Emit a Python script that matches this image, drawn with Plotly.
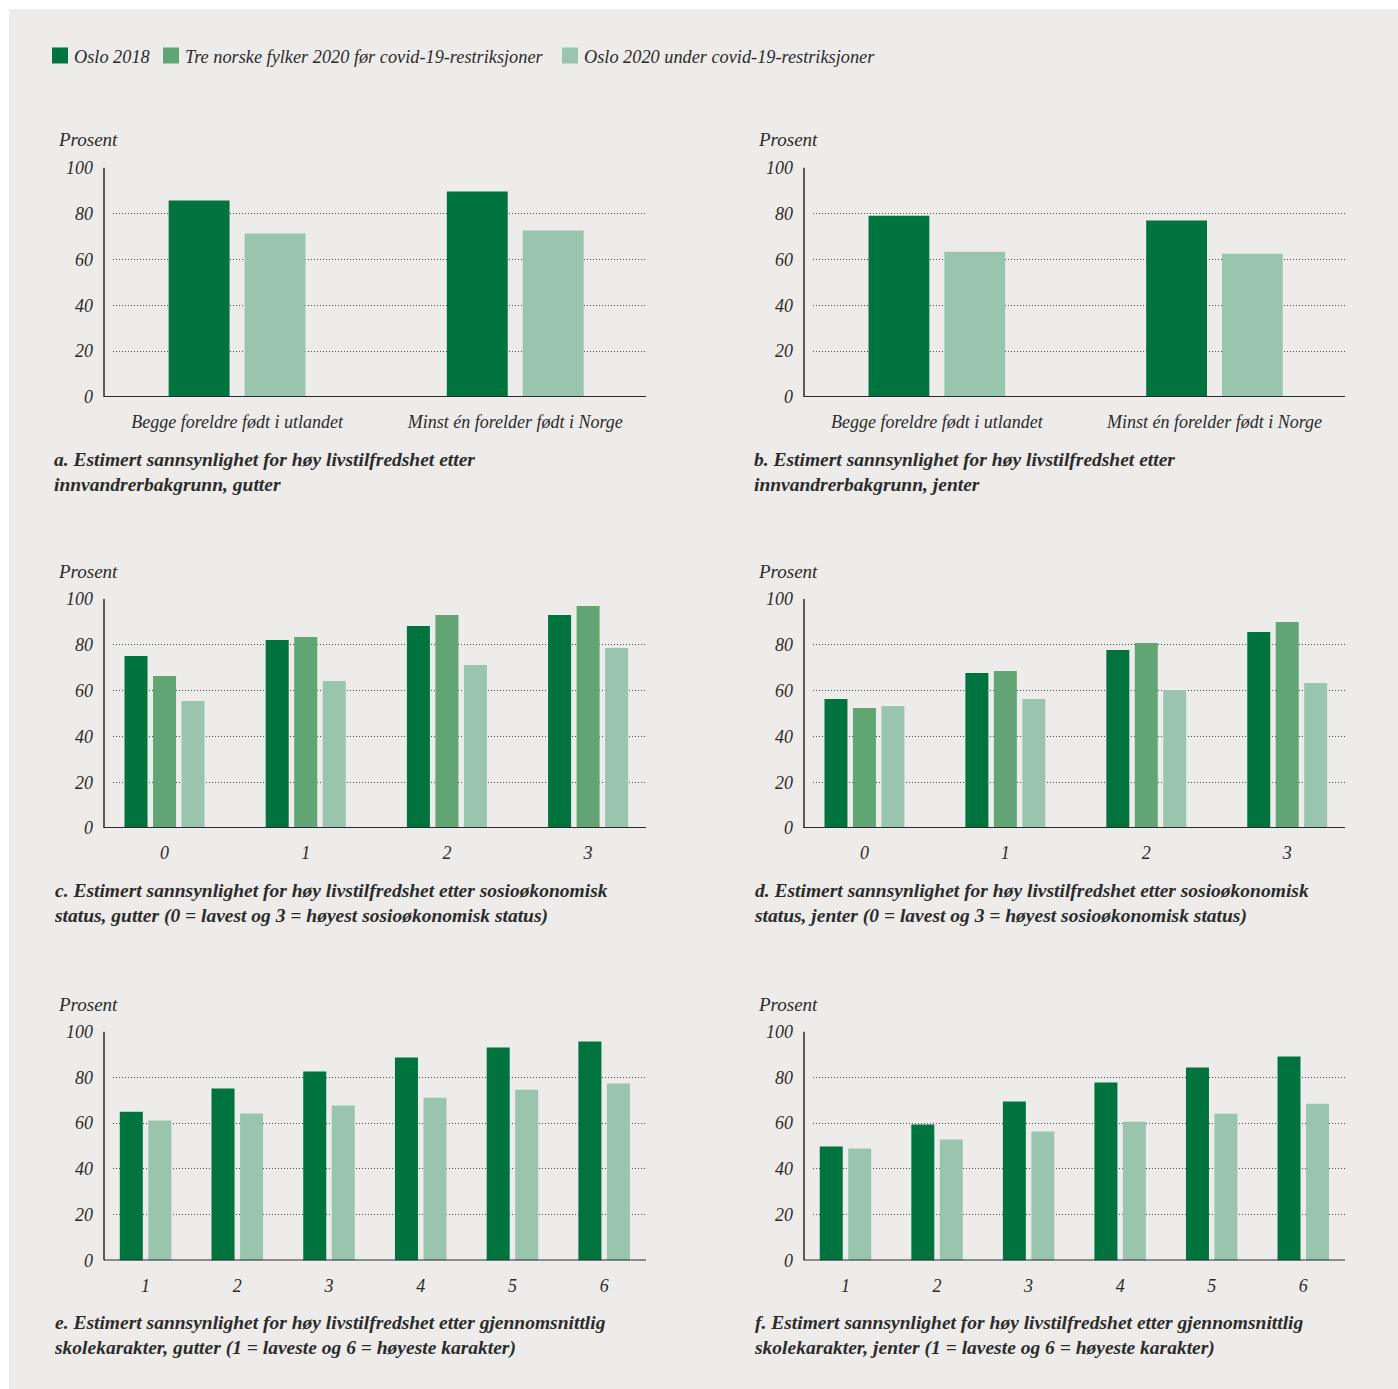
import plotly.graph_objects as go

W, H = 1398, 1389

# ---------------- data ----------------
series_names = [
    "Oslo 2018",
    "Tre norske fylker 2020 før covid-19-restriksjoner",
    "Oslo 2020 under covid-19-restriksjoner",
]
series_colors = ["#00733F", "#61A574", "#99C5AF"]

cats_ab = ["Begge foreldre født i utlandet", "Minst én forelder født i Norge"]
cats_cd = ["0", "1", "2", "3"]
cats_ef = ["1", "2", "3", "4", "5", "6"]

a_oslo2018 = [85.6, 89.5]
a_oslo2020 = [71.2, 72.5]

b_oslo2018 = [79.0, 76.9]
b_oslo2020 = [63.3, 62.4]

c_oslo2018 = [75.1, 82.1, 88.2, 93.0]
c_tre2020 = [66.4, 83.4, 93.0, 96.9]
c_oslo2020 = [55.5, 64.2, 71.2, 78.6]

d_oslo2018 = [56.3, 67.7, 77.7, 85.6]
d_tre2020 = [52.4, 68.6, 80.8, 90.0]
d_oslo2020 = [53.3, 56.3, 60.3, 63.3]

e_oslo2018 = [65.0, 75.1, 82.5, 88.6, 93.0, 95.6]
e_oslo2020 = [61.1, 64.2, 67.7, 71.1, 74.6, 77.3]

f_oslo2018 = [49.8, 59.4, 69.4, 77.7, 84.3, 89.1]
f_oslo2020 = [48.9, 52.8, 56.3, 60.6, 64.1, 68.5]

y_ticks = [0, 20, 40, 60, 80, 100]
y_title = "Prosent"

captions = [
    "a. Estimert sannsynlighet for høy livstilfredshet etter<br>innvandrerbakgrunn, gutter",
    "b. Estimert sannsynlighet for høy livstilfredshet etter<br>innvandrerbakgrunn, jenter",
    "c. Estimert sannsynlighet for høy livstilfredshet etter sosioøkonomisk<br>status, gutter (0 = lavest og 3 = høyest sosioøkonomisk status)",
    "d. Estimert sannsynlighet for høy livstilfredshet etter sosioøkonomisk<br>status, jenter (0 = lavest og 3 = høyest sosioøkonomisk status)",
    "e. Estimert sannsynlighet for høy livstilfredshet etter gjennomsnittlig<br>skolekarakter, gutter (1 = laveste og 6 = høyeste karakter)",
    "f. Estimert sannsynlighet for høy livstilfredshet etter gjennomsnittlig<br>skolekarakter, jenter (1 = laveste og 6 = høyeste karakter)",
]

panels = [
    dict(cats=cats_ab, series=[(0, a_oslo2018), (2, a_oslo2020)]),
    dict(cats=cats_ab, series=[(0, b_oslo2018), (2, b_oslo2020)]),
    dict(cats=cats_cd, series=[(0, c_oslo2018), (1, c_tre2020), (2, c_oslo2020)]),
    dict(cats=cats_cd, series=[(0, d_oslo2018), (1, d_tre2020), (2, d_oslo2020)]),
    dict(cats=cats_ef, series=[(0, e_oslo2018), (2, e_oslo2020)]),
    dict(cats=cats_ef, series=[(0, f_oslo2018), (2, f_oslo2020)]),
]

# ---------------- styling / geometry ----------------
FONT = "Liberation Serif"
TXT = "#2b2b2b"
BG = "#EDECEA"

axis_line_x = [104, 804]
dom_x = [(113, 646), (813, 1345)]
rows_y = [(167.5, 397), (599, 828), (1031.5, 1260.5)]
# x-range, bar width, bar gap (category units) per row
row_style = [
    dict(rng=[-0.446, 1.47], w=0.219, g=0.054),
    dict(rng=[-0.365, 3.41], w=0.163, g=0.039),
    dict(rng=[-0.355, 5.456], w=0.251, g=0.06),
]


def px(x):
    return x / W


def py(y):
    return 1 - y / H


fig = go.Figure()
shapes = [
    dict(type="rect", xref="paper", yref="paper", x0=px(9), x1=px(W), y0=py(H), y1=py(9),
         fillcolor=BG, line=dict(width=0), layer="below")
]
annotations = []
layout_axes = {}

tick_font = dict(family=FONT, size=18, color=TXT, style="italic")

for i, p in enumerate(panels):
    col = i % 2
    row = i // 2
    st = row_style[row]
    ax = "" if i == 0 else str(i + 1)
    xname, yname = "x" + ax, "y" + ax
    n = len(p["series"])
    total = n * st["w"] + (n - 1) * st["g"]
    for j, (si, vals) in enumerate(p["series"]):
        fig.add_trace(go.Bar(
            x=p["cats"], y=vals, xaxis=xname, yaxis=yname,
            name=series_names[si], marker=dict(color=series_colors[si], line=dict(width=0)),
            width=st["w"], offset=-total / 2 + j * (st["w"] + st["g"]),
            showlegend=False, hovertemplate="%{x}: %{y}<extra>" + series_names[si] + "</extra>",
        ))
    top, bot = rows_y[row]
    layout_axes["xaxis" + ax] = dict(
        domain=[px(dom_x[col][0]), px(dom_x[col][1])], anchor=yname,
        type="category", range=st["rng"], showgrid=False, zeroline=False, showline=False,
        ticks="", tickfont=tick_font, automargin=False,
        ticklabelstandoff=12, fixedrange=True,
    )
    layout_axes["yaxis" + ax] = dict(
        domain=[py(bot), py(top)], anchor=xname, range=[0, 100],
        tickvals=y_ticks, showgrid=True, gridcolor="#4a4a4a", griddash="1px,2px", gridwidth=1,
        zeroline=False, showline=False, ticks="", automargin=False,
        tickfont=tick_font,
        ticklabelstandoff=19, fixedrange=True,
    )
    # axis lines
    shapes.append(dict(type="line", xref="paper", yref=yname, x0=px(axis_line_x[col]),
                       x1=px(dom_x[col][1]), y0=0, y1=0, line=dict(color="#2a2a2a", width=2)))
    shapes.append(dict(type="line", xref="paper", yref=yname, x0=px(axis_line_x[col]),
                       x1=px(axis_line_x[col]), y0=0, y1=100, line=dict(color="#2a2a2a", width=1.5)))
    # "Prosent"
    annotations.append(dict(text=y_title, xref="paper", yref="paper", x=px(axis_line_x[col] - 48),
                            y=py(top - 27.5), xanchor="left", yanchor="middle", showarrow=False,
                            font=dict(family=FONT, size=19, color=TXT, style="italic")))
    # caption
    annotations.append(dict(text=captions[i], xref="paper", yref="paper", x=px(axis_line_x[col] - 52),
                            y=py(bot + 49.5), xanchor="left", yanchor="top", align="left", showarrow=False,
                            font=dict(family=FONT, size=19.5, color=TXT, style="italic", weight="bold")))

# manual legend
legend_pos = [(52, 72), (163, 183), (562, 582)]
for k, (sx, tx) in enumerate(legend_pos):
    shapes.append(dict(type="rect", xref="paper", yref="paper", x0=px(sx), x1=px(sx + 16),
                       y0=py(63.5), y1=py(47.5), fillcolor=series_colors[k], line=dict(width=0)))
    annotations.append(dict(text=series_names[k], xref="paper", yref="paper", x=px(tx), y=py(56.5),
                            xanchor="left", yanchor="middle", showarrow=False,
                            font=dict(family=FONT, size=18.3, color=TXT, style="italic")))

fig.update_layout(
    width=W, height=H, margin=dict(l=0, r=0, t=0, b=0, pad=0, autoexpand=False),
    paper_bgcolor="white", plot_bgcolor="rgba(0,0,0,0)",
    barmode="overlay", showlegend=False,
    shapes=shapes, annotations=annotations,
    font=dict(family=FONT, color=TXT),
    **layout_axes,
)

fig.write_html("out.html")
